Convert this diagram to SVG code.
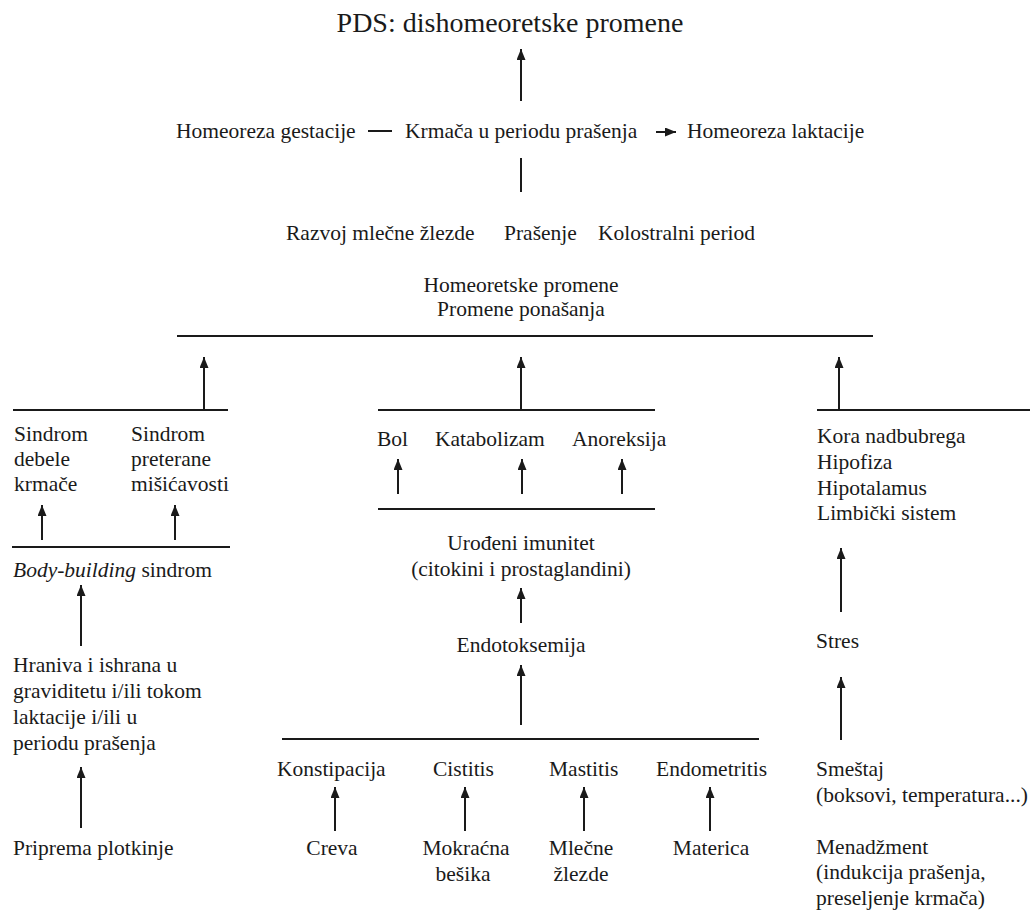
<svg xmlns="http://www.w3.org/2000/svg" width="1031" height="911" viewBox="0 0 1031 911">
<defs>
<marker id="ah" markerUnits="userSpaceOnUse" viewBox="0 0 11 9" refX="11" refY="4.5" markerWidth="11" markerHeight="9" orient="auto">
<path d="M0,0 L11,4.5 L0,9 z" fill="#1a1a1a"/>
</marker>
<style>
text{font-family:"Liberation Serif","Times New Roman",serif;font-size:21.5px;fill:#1a1a1a}
.t{font-size:28px}
.c{text-anchor:middle}
.l{stroke:#1a1a1a;stroke-width:2;fill:none}
.a{stroke:#1a1a1a;stroke-width:2;fill:none;marker-end:url(#ah)}
</style>
</defs>
<rect width="1031" height="911" fill="#fff"/>
<g id="connectors">
<line class="a" x1="521" y1="101" x2="521" y2="49"/>
<line class="l" x1="368" y1="131" x2="392" y2="131"/>
<line class="a" x1="656" y1="132" x2="676" y2="132"/>
<line class="l" x1="521" y1="158" x2="521" y2="192"/>
<line class="l" x1="177" y1="336" x2="873" y2="336"/>
<line class="a" x1="204" y1="410" x2="204" y2="357"/>
<line class="a" x1="521" y1="410" x2="521" y2="357"/>
<line class="a" x1="839" y1="410" x2="839" y2="357"/>
<line class="l" x1="13" y1="410" x2="228" y2="410"/>
<line class="l" x1="378" y1="410" x2="655" y2="410"/>
<line class="l" x1="817" y1="410" x2="1030" y2="410"/>
<line class="a" x1="42" y1="540" x2="42" y2="505"/>
<line class="a" x1="175" y1="540" x2="175" y2="505"/>
<line class="l" x1="12" y1="547" x2="230" y2="547"/>
<line class="a" x1="81" y1="646" x2="81" y2="585"/>
<line class="a" x1="81" y1="828" x2="81" y2="767"/>
<line class="a" x1="398" y1="494" x2="398" y2="459"/>
<line class="a" x1="522" y1="494" x2="522" y2="459"/>
<line class="a" x1="622" y1="494" x2="622" y2="459"/>
<line class="l" x1="378" y1="509" x2="655" y2="509"/>
<line class="a" x1="521" y1="623" x2="521" y2="588"/>
<line class="a" x1="521" y1="725" x2="521" y2="665"/>
<line class="l" x1="282" y1="739" x2="759" y2="739"/>
<line class="a" x1="335" y1="831" x2="335" y2="787"/>
<line class="a" x1="465" y1="831" x2="465" y2="787"/>
<line class="a" x1="584" y1="831" x2="584" y2="787"/>
<line class="a" x1="710" y1="831" x2="710" y2="787"/>
<line class="a" x1="841" y1="612" x2="841" y2="548"/>
<line class="a" x1="841" y1="740" x2="841" y2="677"/>
</g>
<g id="n-title"><text class="t c" x="510" y="32">PDS: dishomeoretske promene</text></g>
<g id="n-hgest"><text x="176" y="138">Homeoreza gestacije</text></g>
<g id="n-krmaca"><text x="405" y="138">Krmača u periodu prašenja</text></g>
<g id="n-hlakt"><text x="687" y="138">Homeoreza laktacije</text></g>
<g id="n-razvoj"><text x="286" y="240">Razvoj mlečne žlezde</text></g>
<g id="n-prasenje"><text x="504" y="240">Prašenje</text></g>
<g id="n-kolostr"><text x="598" y="240">Kolostralni period</text></g>
<g id="n-homeo"><text class="c" x="521" y="292">Homeoretske promene</text><text class="c" x="521" y="316">Promene ponašanja</text></g>
<g id="n-sdk"><text x="14" y="441">Sindrom</text><text x="14" y="466">debele</text><text x="14" y="491">krmače</text></g>
<g id="n-spm"><text x="131" y="441">Sindrom</text><text x="131" y="466">preterane</text><text x="131" y="491">mišićavosti</text></g>
<g id="n-bbs"><text x="13" y="577"><tspan font-style="italic">Body-building</tspan> sindrom</text></g>
<g id="n-hraniva"><text x="13" y="672">Hraniva i ishrana u</text><text x="13" y="698">graviditetu i/ili tokom</text><text x="13" y="724">laktacije i/ili u</text><text x="13" y="750">periodu prašenja</text></g>
<g id="n-priprema"><text x="13" y="855">Priprema plotkinje</text></g>
<g id="n-bol"><text x="377" y="446">Bol</text></g>
<g id="n-kata"><text x="435" y="446">Katabolizam</text></g>
<g id="n-anor"><text x="572" y="446">Anoreksija</text></g>
<g id="n-imun"><text class="c" x="521" y="550">Urođeni imunitet</text><text class="c" x="521" y="576">(citokini i prostaglandini)</text></g>
<g id="n-endotox"><text class="c" x="521" y="652">Endotoksemija</text></g>
<g id="n-konst"><text x="277" y="776">Konstipacija</text></g>
<g id="n-cist"><text x="433" y="776">Cistitis</text></g>
<g id="n-mast"><text x="549" y="776">Mastitis</text></g>
<g id="n-endom"><text x="656" y="776">Endometritis</text></g>
<g id="n-creva"><text class="c" x="332" y="855">Creva</text></g>
<g id="n-mokr"><text class="c" x="466" y="855">Mokraćna</text><text class="c" x="463" y="881">bešika</text></g>
<g id="n-mlecne"><text class="c" x="581" y="855">Mlečne</text><text class="c" x="581" y="881">žlezde</text></g>
<g id="n-materica"><text class="c" x="711" y="855">Materica</text></g>
<g id="n-kora"><text x="817" y="443">Kora nadbubrega</text><text x="817" y="469">Hipofiza</text><text x="817" y="495">Hipotalamus</text><text x="817" y="520">Limbički sistem</text></g>
<g id="n-stres"><text x="816" y="648">Stres</text></g>
<g id="n-smestaj"><text x="816" y="776">Smeštaj</text><text x="816" y="802">(boksovi, temperatura...)</text></g>
<g id="n-menadz"><text x="816" y="854">Menadžment</text><text x="816" y="879">(indukcija prašenja,</text><text x="816" y="905">preseljenje krmača)</text></g>
</svg>
